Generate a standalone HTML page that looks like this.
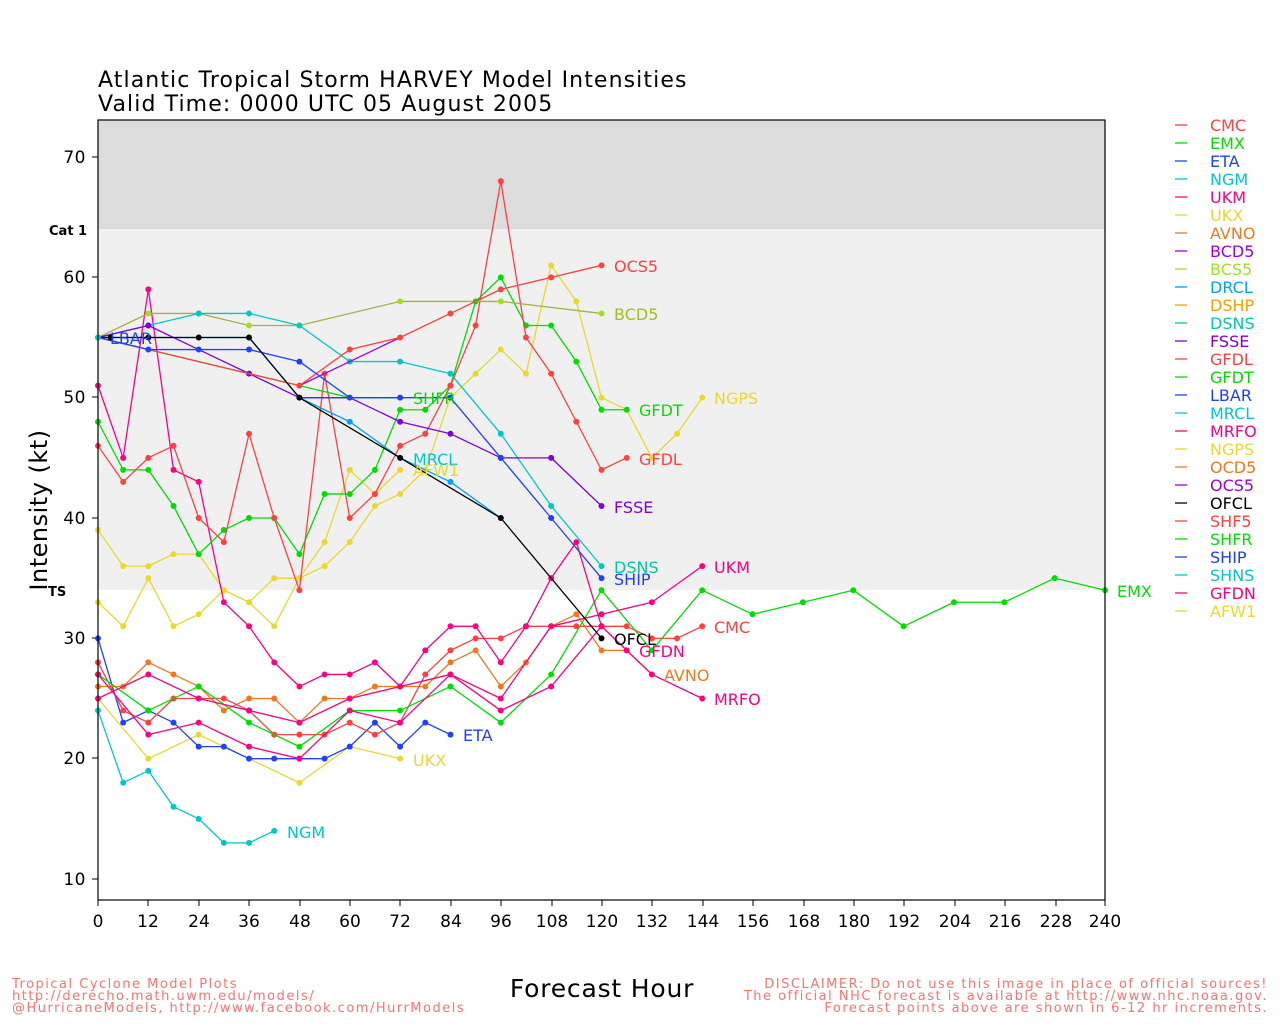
<!DOCTYPE html>
<html><head><meta charset="utf-8"><style>
body{margin:0;background:#fff;width:1280px;height:1024px;overflow:hidden;font-family:"DejaVu Sans","Liberation Sans",sans-serif}
svg{display:block}
.l{fill:none;stroke-width:1.3;vector-effect:non-scaling-stroke;stroke-linejoin:round}
.d{fill:none;stroke-width:6;stroke-linecap:round;vector-effect:non-scaling-stroke}
text{font-family:"DejaVu Sans","Liberation Sans",sans-serif}
.lab{font-size:16px}
</style></head><body>
<svg width="1280" height="1024" viewBox="0 0 1280 1024">
<rect x="98" y="120" width="1007" height="110" fill="#dcdcdc"/>
<rect x="98" y="229" width="1007" height="361" fill="#f0f0f0"/>
<text x="98" y="87" font-size="22" letter-spacing="1.1">Atlantic Tropical Storm HARVEY Model Intensities</text>
<text x="98" y="111" font-size="22" letter-spacing="1.1">Valid Time: 0000 UTC 05 August 2005</text>
<g font-size="17" text-anchor="end" letter-spacing="0.5">
<text x="86" y="163">70</text><text x="86" y="283">60</text><text x="86" y="403">50</text><text x="86" y="524">40</text><text x="86" y="644">30</text><text x="86" y="764">20</text><text x="86" y="885">10</text>
</g>
<text x="49" y="235" font-size="13" font-weight="bold">Cat 1</text>
<text x="48" y="596" font-size="13" font-weight="bold">TS</text>
<text transform="translate(47,510) rotate(-90)" font-size="24" text-anchor="middle" letter-spacing="0.5">Intensity (kt)</text>
<g stroke="#000" stroke-width="1">
<path d="M92 157h6M92 277h6M92 397h6M92 518h6M92 638h6M92 758h6M92 879h6"/>
<path d="M98 900v6M148 900v6M199 900v6M249 900v6M300 900v6M350 900v6M400 900v6M451 900v6M501 900v6M552 900v6M602 900v6M652 900v6M703 900v6M753 900v6M804 900v6M854 900v6M904 900v6M955 900v6M1005 900v6M1056 900v6M1105 900v6"/>
</g>
<g font-size="17" text-anchor="middle">
<text x="98" y="927">0</text><text x="148" y="927">12</text><text x="199" y="927">24</text><text x="249" y="927">36</text><text x="300" y="927">48</text><text x="350" y="927">60</text><text x="400" y="927">72</text><text x="451" y="927">84</text><text x="501" y="927">96</text><text x="552" y="927">108</text><text x="602" y="927">120</text><text x="652" y="927">132</text><text x="703" y="927">144</text><text x="753" y="927">156</text><text x="804" y="927">168</text><text x="854" y="927">180</text><text x="904" y="927">192</text><text x="955" y="927">204</text><text x="1005" y="927">216</text><text x="1056" y="927">228</text><text x="1105" y="927">240</text>
</g>
<text x="602" y="997" font-size="25" text-anchor="middle" letter-spacing="0.8">Forecast Hour</text>
<g font-size="13" fill="#ff7070" letter-spacing="1.5">
<text x="12" y="988">Tropical Cyclone Model Plots</text>
<text x="12" y="1000">http://derecho.math.uwm.edu/models/</text>
<text x="12" y="1012">@HurricaneModels, http://www.facebook.com/HurrModels</text>
<g text-anchor="end"><text x="1268" y="988">DISCLAIMER: Do not use this image in place of official sources!</text>
<text x="1268" y="1000">The official NHC forecast is available at http://www.nhc.noaa.gov.</text>
<text x="1268" y="1012">Forecast points above are shown in 6-12 hr increments.</text></g>
</g>

<g transform="matrix(4.196 0 0 -12.033 98 999.33)">
<polyline class="l" stroke="#e8d830" points="0,39 6,36 12,36 18,37 24,37 30,34 36,33 42,35 48,35 54,36 60,38 66,41 72,42 78,44 84,50 90,52 96,54 102,52 108,61 114,58 120,50 126,49 132,45 138,47 144,50"/>
<path class="d" stroke="#e8d830" d="M0 39h0M6 36h0M12 36h0M18 37h0M24 37h0M30 34h0M36 33h0M42 35h0M48 35h0M54 36h0M60 38h0M66 41h0M72 42h0M78 44h0M84 50h0M90 52h0M96 54h0M102 52h0M108 61h0M114 58h0M120 50h0M126 49h0M132 45h0M138 47h0M144 50h0"/>
<polyline class="l" stroke="#e8d830" points="0,33 6,31 12,35 18,31 24,32 30,34 36,33 42,31 48,35 54,38 60,44 66,42 72,44"/>
<path class="d" stroke="#e8d830" d="M0 33h0M6 31h0M12 35h0M18 31h0M24 32h0M30 34h0M36 33h0M42 31h0M48 35h0M54 38h0M60 44h0M66 42h0M72 44h0"/>
<polyline class="l" stroke="#e8d830" points="0,25 12,20 24,22 36,20 48,18 60,21 72,20"/>
<path class="d" stroke="#e8d830" d="M0 25h0M12 20h0M24 22h0M36 20h0M48 18h0M60 21h0M72 20h0"/>
<polyline class="l" stroke="#00c8c8" points="0,24 6,18 12,19 18,16 24,15 30,13 36,13 42,14"/>
<path class="d" stroke="#00c8c8" d="M0 24h0M6 18h0M12 19h0M18 16h0M24 15h0M30 13h0M36 13h0M42 14h0"/>
<polyline class="l" stroke="#2040ff" points="0,30 6,23 12,24 18,23 24,21 30,21 36,20 42,20 48,20 54,20 60,21 66,23 72,21 78,23 84,22"/>
<path class="d" stroke="#2040ff" d="M0 30h0M6 23h0M12 24h0M18 23h0M24 21h0M30 21h0M36 20h0M42 20h0M48 20h0M54 20h0M60 21h0M66 23h0M72 21h0M78 23h0M84 22h0"/>
<polyline class="l" stroke="#f07820" points="0,26 6,26 12,28 18,27 24,26 30,24 36,25 42,25 48,23 54,25 60,25 66,26 72,26 78,26 84,28 90,29 96,26 102,28 108,31 114,32 120,29 126,29 132,27"/>
<path class="d" stroke="#f07820" d="M0 26h0M6 26h0M12 28h0M18 27h0M24 26h0M30 24h0M36 25h0M42 25h0M48 23h0M54 25h0M60 25h0M66 26h0M72 26h0M78 26h0M84 28h0M90 29h0M96 26h0M102 28h0M108 31h0M114 32h0M120 29h0M126 29h0M132 27h0"/>
<polyline class="l" stroke="#ff4040" points="0,28 6,24 12,23 18,25 24,25 30,25 36,24 42,22 48,22 54,22 60,23 66,22 72,23 78,27 84,29 90,30 96,30 102,31 108,31 114,31 120,31 126,31 132,30 138,30 144,31"/>
<path class="d" stroke="#ff4040" d="M0 28h0M6 24h0M12 23h0M18 25h0M24 25h0M30 25h0M36 24h0M42 22h0M48 22h0M54 22h0M60 23h0M66 22h0M72 23h0M78 27h0M84 29h0M90 30h0M96 30h0M102 31h0M108 31h0M114 31h0M120 31h0M126 31h0M132 30h0M138 30h0M144 31h0"/>
<polyline class="l" stroke="#00dd00" points="0,27 12,24 24,26 36,23 48,21 60,24 72,24 84,26 96,23 108,27 120,34 132,29 144,34 156,32 168,33 180,34 192,31 204,33 216,33 228,35 240,34"/>
<path class="d" stroke="#00dd00" d="M0 27h0M12 24h0M24 26h0M36 23h0M48 21h0M60 24h0M72 24h0M84 26h0M96 23h0M108 27h0M120 34h0M132 29h0M144 34h0M156 32h0M168 33h0M180 34h0M192 31h0M204 33h0M216 33h0M228 35h0M240 34h0"/>
<polyline class="l" stroke="#ff0080" points="0,27 12,22 24,23 36,21 48,20 60,24 72,23 84,27 96,24 108,26 120,31 132,27 144,25"/>
<path class="d" stroke="#ff0080" d="M0 27h0M12 22h0M24 23h0M36 21h0M48 20h0M60 24h0M72 23h0M84 27h0M96 24h0M108 26h0M120 31h0M132 27h0M144 25h0"/>
<polyline class="l" stroke="#ff0080" points="0,25 12,27 24,25 36,24 48,23 60,25 72,26 84,27 96,25 108,31 120,32 132,33 144,36"/>
<path class="d" stroke="#ff0080" d="M0 25h0M12 27h0M24 25h0M36 24h0M48 23h0M60 25h0M72 26h0M84 27h0M96 25h0M108 31h0M120 32h0M132 33h0M144 36h0"/>
<polyline class="l" stroke="#ff0080" points="0,51 6,45 12,59 18,44 24,43 30,33 36,31 42,28 48,26 54,27 60,27 66,28 72,26 78,29 84,31 90,31 96,28 102,31 108,35 114,38 120,31 126,29"/>
<path class="d" stroke="#ff0080" d="M0 51h0M6 45h0M12 59h0M18 44h0M24 43h0M30 33h0M36 31h0M42 28h0M48 26h0M54 27h0M60 27h0M66 28h0M72 26h0M78 29h0M84 31h0M90 31h0M96 28h0M102 31h0M108 35h0M114 38h0M120 31h0M126 29h0"/>
<polyline class="l" stroke="#00dd00" points="0,48 6,44 12,44 18,41 24,37 30,39 36,40 42,40 48,37 54,42 60,42 66,44 72,49 78,49 84,51 90,58 96,60 102,56 108,56 114,53 120,49 126,49"/>
<path class="d" stroke="#00dd00" d="M0 48h0M6 44h0M12 44h0M18 41h0M24 37h0M30 39h0M36 40h0M42 40h0M48 37h0M54 42h0M60 42h0M66 44h0M72 49h0M78 49h0M84 51h0M90 58h0M96 60h0M102 56h0M108 56h0M114 53h0M120 49h0M126 49h0"/>
<polyline class="l" stroke="#ff4040" points="0,46 6,43 12,45 18,46 24,40 30,38 36,47 42,40 48,34 54,52 60,40 66,42 72,46 78,47 84,51 90,56 96,68 102,55 108,52 114,48 120,44 126,45"/>
<path class="d" stroke="#ff4040" d="M0 46h0M6 43h0M12 45h0M18 46h0M24 40h0M30 38h0M36 47h0M42 40h0M48 34h0M54 52h0M60 40h0M66 42h0M72 46h0M78 47h0M84 51h0M90 56h0M96 68h0M102 55h0M108 52h0M114 48h0M120 44h0M126 45h0"/>
<polyline class="l" stroke="#a8b040" points="0,55 12,57 24,57 36,56 48,56 72,58 96,58 120,57"/>
<path class="d" stroke="#a0e020" d="M12 57h0M24 57h0M36 56h0M48 56h0M72 58h0M96 58h0M120 57h0"/>
<polyline class="l" stroke="#00c8c8" points="0,55 12,56 24,57 36,57 48,56 60,53 72,53 84,52 96,47 108,41 120,36"/>
<path class="d" stroke="#00c8c8" d="M0 55h0M12 56h0M24 57h0M36 57h0M48 56h0M60 53h0M72 53h0M84 52h0M96 47h0M108 41h0M120 36h0"/>
<polyline class="l" stroke="#00a0ff" points="0,55 12,55 24,55 36,55 48,50 60,48 72,45 84,43 96,40"/>
<path class="d" stroke="#00a0ff" d="M60 48h0M84 43h0"/>
<polyline class="l" stroke="#8000e0" points="0,55 12,56 24,54 36,52 48,50 60,50 72,48 84,47 96,45 108,45 120,41"/>
<path class="d" stroke="#8000e0" d="M12 56h0M36 52h0M72 48h0M84 47h0M96 45h0M108 45h0M120 41h0"/>
<polyline class="l" stroke="#a000e0" points="48,51 60,53 72,55"/>
<polyline class="l" stroke="#00dd00" points="0,55 12,54 24,53 36,52 48,51 60,50 72,50"/>
<polyline class="l" stroke="#ff4040" points="0,55 12,54 24,53 36,52 48,51 60,54 72,55 84,57 96,59 108,60 120,61"/>
<path class="d" stroke="#ff4040" d="M48 51h0M60 54h0M72 55h0M84 57h0M96 59h0M108 60h0M120 61h0"/>
<polyline class="l" stroke="#2040ff" points="0,55 12,54 24,54 36,54 48,53 60,50 72,50 84,50 96,45 108,40 120,35"/>
<path class="d" stroke="#2040ff" d="M12 54h0M24 54h0M36 54h0M48 53h0M60 50h0M72 50h0M84 50h0M96 45h0M108 40h0M120 35h0"/>
<polyline class="l" stroke="#2040ff" points="48,50 60,50"/>
<polyline class="l" stroke="#000" points="0,55 12,55 24,55 36,55 48,50 72,45 96,40 120,30"/>
<path class="d" stroke="#000" d="M3 55h0M12 55h0M24 55h0M36 55h0M48 50h0M72 45h0M96 40h0M120 30h0"/>
<path class="d" stroke="#00c8c8" d="M0 55h0"/>
</g>
<rect x="98" y="120" width="1007" height="780" fill="none" stroke="#000" stroke-width="1.2"/>

<g class="lab">
<text x="110" y="344" fill="#2040ff">LBAR</text>
<text x="413" y="404" fill="#00dd00">SHFR</text>
<text x="413" y="465" fill="#00c8c8">MRCL</text>
<text x="413" y="476" fill="#e8d830">AFW1</text>
<text x="614" y="272" fill="#ff4040">OCS5</text>
<text x="614" y="320" fill="#a0c020">BCD5</text>
<text x="639" y="416" fill="#00dd00">GFDT</text>
<text x="639" y="465" fill="#ff4040">GFDL</text>
<text x="714" y="404" fill="#e8d830">NGPS</text>
<text x="614" y="513" fill="#8000e0">FSSE</text>
<text x="614" y="573" fill="#00c8a0">DSNS</text>
<text x="614" y="585" fill="#2040ff">SHIP</text>
<text x="614" y="645" fill="#000">OFCL</text>
<text x="639" y="657" fill="#ff0080">GFDN</text>
<text x="664" y="681" fill="#f07820">AVNO</text>
<text x="714" y="573" fill="#ff0080">UKM</text>
<text x="714" y="633" fill="#ff4040">CMC</text>
<text x="714" y="705" fill="#ff0080">MRFO</text>
<text x="463" y="741" fill="#2040ff">ETA</text>
<text x="413" y="766" fill="#e8d830">UKX</text>
<text x="287" y="838" fill="#00c8c8">NGM</text>
<text x="1117" y="597" fill="#00dd00">EMX</text>
</g>

<g font-size="16">
<g stroke-width="1.3">
<path stroke="#ff4040" d="M1175 125h12"/><path stroke="#00dd00" d="M1175 143h12"/><path stroke="#2040ff" d="M1175 161h12"/><path stroke="#00c8c8" d="M1175 179h12"/><path stroke="#ff0080" d="M1175 197h12"/><path stroke="#e8d830" d="M1175 215h12"/><path stroke="#f07820" d="M1175 233h12"/><path stroke="#a000e0" d="M1175 251h12"/><path stroke="#a0e020" d="M1175 269h12"/><path stroke="#00a0ff" d="M1175 287h12"/><path stroke="#f0a000" d="M1175 305h12"/><path stroke="#00c8a0" d="M1175 323h12"/><path stroke="#8000e0" d="M1175 341h12"/><path stroke="#ff4040" d="M1175 359h12"/><path stroke="#00dd00" d="M1175 377h12"/><path stroke="#2040ff" d="M1175 395h12"/><path stroke="#00c8c8" d="M1175 413h12"/><path stroke="#ff0080" d="M1175 431h12"/><path stroke="#e8d830" d="M1175 449h12"/><path stroke="#f07820" d="M1175 467h12"/><path stroke="#a000e0" d="M1175 485h12"/><path stroke="#000" d="M1175 503h12"/><path stroke="#ff4040" d="M1175 521h12"/><path stroke="#00dd00" d="M1175 539h12"/><path stroke="#2040ff" d="M1175 557h12"/><path stroke="#00c8c8" d="M1175 575h12"/><path stroke="#ff0080" d="M1175 593h12"/><path stroke="#e8d830" d="M1175 611h12"/>
</g>
<text x="1210" y="131" fill="#ff4040">CMC</text><text x="1210" y="149" fill="#00dd00">EMX</text><text x="1210" y="167" fill="#2040ff">ETA</text><text x="1210" y="185" fill="#00c8c8">NGM</text><text x="1210" y="203" fill="#ff0080">UKM</text><text x="1210" y="221" fill="#e8d830">UKX</text><text x="1210" y="239" fill="#f07820">AVNO</text><text x="1210" y="257" fill="#a000e0">BCD5</text><text x="1210" y="275" fill="#a0e020">BCS5</text><text x="1210" y="293" fill="#00a0ff">DRCL</text><text x="1210" y="311" fill="#f0a000">DSHP</text><text x="1210" y="329" fill="#00c8a0">DSNS</text><text x="1210" y="347" fill="#8000e0">FSSE</text><text x="1210" y="365" fill="#ff4040">GFDL</text><text x="1210" y="383" fill="#00dd00">GFDT</text><text x="1210" y="401" fill="#2040ff">LBAR</text><text x="1210" y="419" fill="#00c8c8">MRCL</text><text x="1210" y="437" fill="#ff0080">MRFO</text><text x="1210" y="455" fill="#e8d830">NGPS</text><text x="1210" y="473" fill="#f07820">OCD5</text><text x="1210" y="491" fill="#a000e0">OCS5</text><text x="1210" y="509" fill="#000">OFCL</text><text x="1210" y="527" fill="#ff4040">SHF5</text><text x="1210" y="545" fill="#00dd00">SHFR</text><text x="1210" y="563" fill="#2040ff">SHIP</text><text x="1210" y="581" fill="#00c8c8">SHNS</text><text x="1210" y="599" fill="#ff0080">GFDN</text><text x="1210" y="617" fill="#e8d830">AFW1</text>
</g>
</svg>
</body></html>
